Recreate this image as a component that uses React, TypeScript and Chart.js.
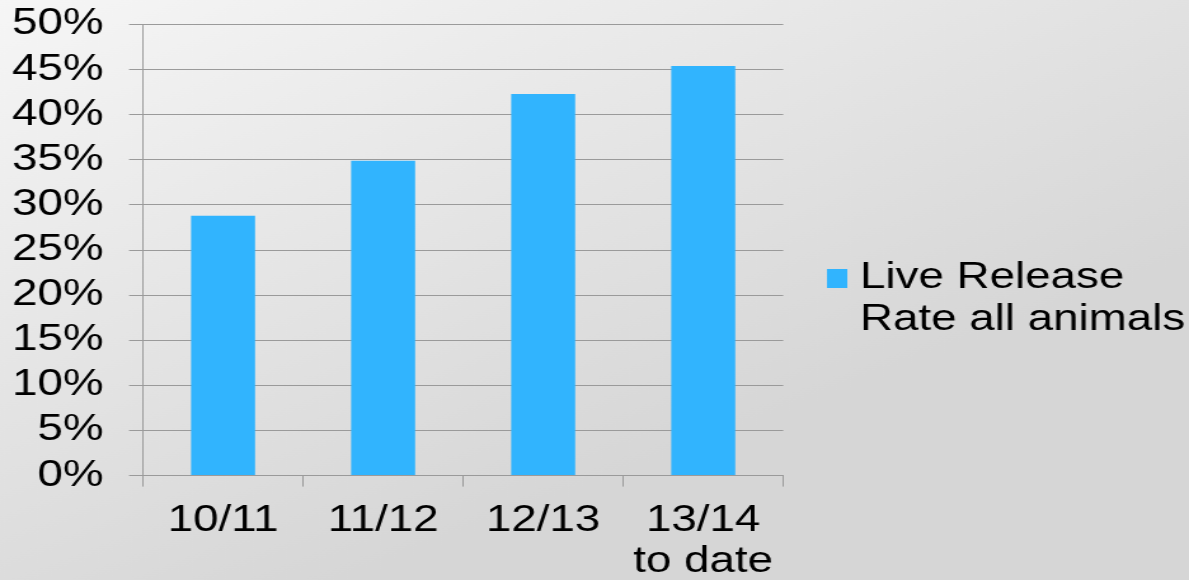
import React, { useEffect, useRef } from "react";
import { Chart, registerables } from "chart.js";

Chart.register(...registerables);

const categories: (string | string[])[] = ["10/11", "11/12", "12/13", ["13/14", "to date"]];
const seriesLabel: string[] = ["Live Release", "Rate all animals"];
const liveReleaseRate: number[] = [28.8, 34.9, 42.3, 45.4];
const yMin = 0;
const yMax = 50;
const yStep = 5;

const BAR_COLOR = "#31B4FE";
const GRID_COLOR = "#9a9a9a";
const FONT_FAMILY = "'Liberation Sans', Arial, sans-serif";
const CANVAS_W = 936;
const CANVAS_H = 580;
const STRETCH = 1189 / CANVAS_W;

const backgroundPlugin = {
  id: "bgGradient",
  beforeDraw(chart: any) {
    const { ctx, width, height } = chart;
    ctx.save();
    const g = ctx.createLinearGradient(0, 0, width * 0.3, height);
    g.addColorStop(0, "#f6f6f6");
    g.addColorStop(1, "#d6d6d6");
    ctx.fillStyle = g;
    ctx.fillRect(0, 0, width, height);
    ctx.restore();
  },
};

function makeLegendMarker(): HTMLCanvasElement {
  const c = document.createElement("canvas");
  c.width = 16;
  c.height = 19;
  const cx = c.getContext("2d");
  if (cx) {
    cx.fillStyle = BAR_COLOR;
    cx.fillRect(0, 0, c.width, c.height);
  }
  return c;
}

export default function App() {
  const canvasRef = useRef<HTMLCanvasElement | null>(null);

  useEffect(() => {
    if (!canvasRef.current) return;
    const marker = makeLegendMarker();
    const chart = new Chart(canvasRef.current, {
      type: "bar",
      data: {
        labels: categories,
        datasets: [
          {
            label: seriesLabel.join(" "),
            data: liveReleaseRate,
            backgroundColor: BAR_COLOR,
            borderWidth: 0,
            categoryPercentage: 0.4,
            barPercentage: 1,
          },
        ],
      },
      options: {
        responsive: false,
        animation: false,
        devicePixelRatio: 1,
        layout: { padding: { top: 24.5, left: 0, right: -7, bottom: 0 } },
        plugins: {
          tooltip: { enabled: false },
          legend: {
            position: "right",
            align: "center",
            maxWidth: 420,
            labels: {
              color: "#000",
              font: { family: FONT_FAMILY, size: 36, lineHeight: 1.17 },
              usePointStyle: true,
              boxWidth: 0.01,
              boxHeight: 19,
              padding: 42.3,
              generateLabels: () => [
                {
                  text: seriesLabel as any,
                  fillStyle: BAR_COLOR,
                  strokeStyle: BAR_COLOR,
                  lineWidth: 0,
                  hidden: false,
                  datasetIndex: 0,
                  pointStyle: marker as any,
                },
              ],
            },
          },
        },
        scales: {
          x: {
            offset: true,
            afterFit: (scale: any) => {
              scale.height = 104.4;
              scale.paddingLeft = 0;
              scale.paddingRight = 0;
            },
            grid: {
              offset: true,
              drawOnChartArea: false,
              drawTicks: true,
              tickLength: 11,
              color: GRID_COLOR,
            },
            border: { color: GRID_COLOR, width: 1 },
            ticks: {
              color: "#000",
              padding: 14,
              maxRotation: 0,
              autoSkip: false,
              font: { family: FONT_FAMILY, size: 36, lineHeight: 1.13 },
            },
          },
          y: {
            min: yMin,
            max: yMax,
            afterFit: (scale: any) => {
              scale.width = 112.6;
              scale.paddingTop = 0;
              scale.paddingBottom = 0;
            },
            grid: {
              color: GRID_COLOR,
              drawTicks: true,
              tickLength: 11,
            },
            border: { color: GRID_COLOR, width: 1 },
            ticks: {
              stepSize: yStep,
              autoSkip: false,
              color: "#000",
              padding: 20,
              font: { family: FONT_FAMILY, size: 36, lineHeight: 1.17 },
              callback: (v: any) => `${v}%`,
            },
          },
        },
      },
      plugins: [backgroundPlugin],
    });
    return () => chart.destroy();
  }, []);

  return (
    <div
      style={{
        position: "fixed",
        left: 0,
        top: 0,
        width: CANVAS_W,
        height: CANVAS_H,
        transform: `scaleX(${STRETCH})`,
        transformOrigin: "0 0",
      }}
    >
      <canvas
        ref={canvasRef}
        width={CANVAS_W}
        height={CANVAS_H}
        style={{ width: `${CANVAS_W}px`, height: `${CANVAS_H}px`, display: "block" }}
      />
    </div>
  );
}
